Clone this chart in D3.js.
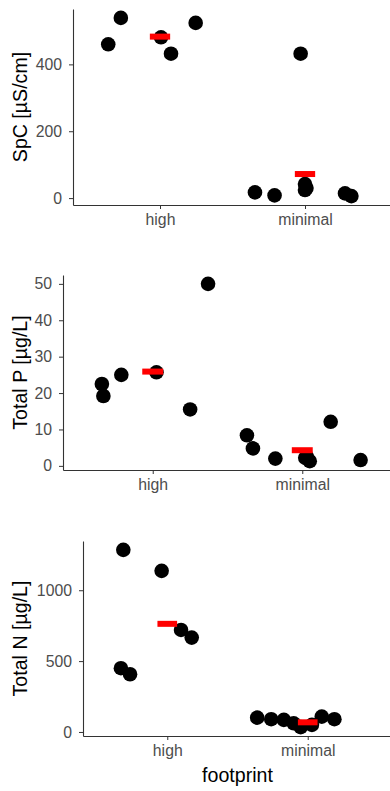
<!DOCTYPE html>
<html>
<head>
<meta charset="utf-8">
<script src="https://cdn.jsdelivr.net/npm/d3@7/dist/d3.min.js"></script>
<style>
  html, body { margin: 0; padding: 0; background: #ffffff; }
  svg { display: block; }
  text { font-family: "Liberation Sans", Arial, sans-serif; }
</style>
</head>
<body>
<svg id="chart" width="390" height="791"></svg>
<script>
// ---------- DATA ----------
const categories = ["high", "minimal"];

// Panel 1: SpC [µS/cm]
const spcHigh = [460, 539, 481, 432, 524];
const spcHighJitter = [-0.357, -0.27, 0.007, 0.076, 0.246];
const spcMinimal = [17, 8, 432, 42, 30, 24, 14, 6];
const spcMinimalJitter = [-0.345, -0.21, -0.03, 0.0, 0.01, 0.0, 0.276, 0.32];
const spcMeans = [483, 72];
const spcTicks = [0, 200, 400];

// Panel 2: Total P [µg/L]
const tpHigh = [22.5, 19.2, 25.0, 25.7, 15.5, 50.0];
const tpHighJitter = [-0.34, -0.33, -0.21, 0.025, 0.25, 0.37];
const tpMinimal = [8.4, 4.8, 2.0, 2.5, 1.3, 12.1, 1.6, 2.2];
const tpMinimalJitter = [-0.37, -0.33, -0.18, 0.03, 0.05, 0.19, 0.39, 0.02];
const tpMeans = [25.9, 4.3];
const tpTicks = [0, 10, 20, 30, 40, 50];

// Panel 3: Total N [µg/L]
const tnHigh = [1285, 1137, 450, 407, 720, 666];
const tnHighJitter = [-0.313, -0.04, -0.33, -0.265, 0.098, 0.174];
const tnMinimal = [101, 90, 85, 61, 34, 108, 90, 50];
const tnMinimalJitter = [-0.36, -0.26, -0.17, -0.1, -0.05, 0.1, 0.19, 0.03];
const tnMeans = [763, 68];
const tnTicks = [0, 500, 1000];

const xTitle = "footprint";

// ---------- DRAW ----------
const svg = d3.select("#chart");
svg.append("rect").attr("width", 390).attr("height", 791).attr("fill", "#ffffff");

const panels = [
  { title: "SpC [µS/cm]", groups: [[spcHigh, spcHighJitter], [spcMinimal, spcMinimalJitter]], means: spcMeans, ticks: spcTicks,
    left: 73, right: 392, top: 9, bottom: 205 },
  { title: "Total P [µg/L]", groups: [[tpHigh, tpHighJitter], [tpMinimal, tpMinimalJitter]], means: tpMeans, ticks: tpTicks,
    left: 63, right: 392, top: 275, bottom: 470 },
  { title: "Total N [µg/L]", groups: [[tnHigh, tnHighJitter], [tnMinimal, tnMinimalJitter]], means: tnMeans, ticks: tnTicks,
    left: 83, right: 392, top: 541, bottom: 736 }
];

panels.forEach((p, pi) => {
  const g = svg.append("g");
  const all = p.groups.flatMap(d => d[0]);
  const mn = d3.min(all), mx = d3.max(all);
  const pad = 0.05 * (mx - mn);
  const y = d3.scaleLinear().domain([mn - pad, mx + pad]).range([p.bottom, p.top]);
  const x = d3.scalePoint().domain(categories).range([p.left, p.right]).padding(0.6);
  const step = x.step();

  // points
  const pts = [];
  p.groups.forEach((grp, ci) => {
    grp[0].forEach((v, i) => pts.push({ cat: categories[ci], v: v, j: grp[1][i] }));
  });
  g.append("g").selectAll("circle").data(pts).join("circle")
    .attr("cx", d => x(d.cat) + d.j * step)
    .attr("cy", d => y(d.v))
    .attr("r", 7.3)
    .attr("fill", "#000000");

  // mean bars
  g.append("g").selectAll("rect").data(p.means.map((m, i) => ({ cat: categories[i], m: m }))).join("rect")
    .attr("x", d => x(d.cat) - 0.07 * step)
    .attr("width", 0.14 * step)
    .attr("y", d => y(d.m) - 3)
    .attr("height", 6)
    .attr("fill", "#ff0000");

  // y axis
  const ya = g.append("g").attr("transform", `translate(${p.left},0)`)
    .call(d3.axisLeft(y).tickValues(p.ticks).tickFormat(d3.format("d")).tickSize(4).tickSizeOuter(0).tickPadding(7));
  // x axis
  const xa = g.append("g").attr("transform", `translate(0,${p.bottom})`)
    .call(d3.axisBottom(x).tickSize(4).tickSizeOuter(0).tickPadding(5));

  [ya, xa].forEach(a => {
    a.select(".domain").attr("stroke", "#333333").attr("stroke-width", 1.1);
    a.selectAll(".tick line").attr("stroke", "#333333").attr("stroke-width", 1);
    a.selectAll(".tick text").attr("fill", "#4d4d4d").style("font-size", "15.8px")
      .style("font-family", "'Liberation Sans', Arial, sans-serif");
  });

  // y title
  g.append("text")
    .attr("transform", `translate(27,${(p.top + p.bottom) / 2}) rotate(-90)`)
    .attr("text-anchor", "middle")
    .attr("fill", "#000000")
    .style("font-size", "19.6px")
    .text(p.title);

  if (pi === panels.length - 1) {
    g.append("text")
      .attr("x", (p.left + p.right) / 2)
      .attr("y", 782)
      .attr("text-anchor", "middle")
      .attr("fill", "#000000")
      .style("font-size", "19.6px")
      .text(xTitle);
  }
});
</script>
</body>
</html>
